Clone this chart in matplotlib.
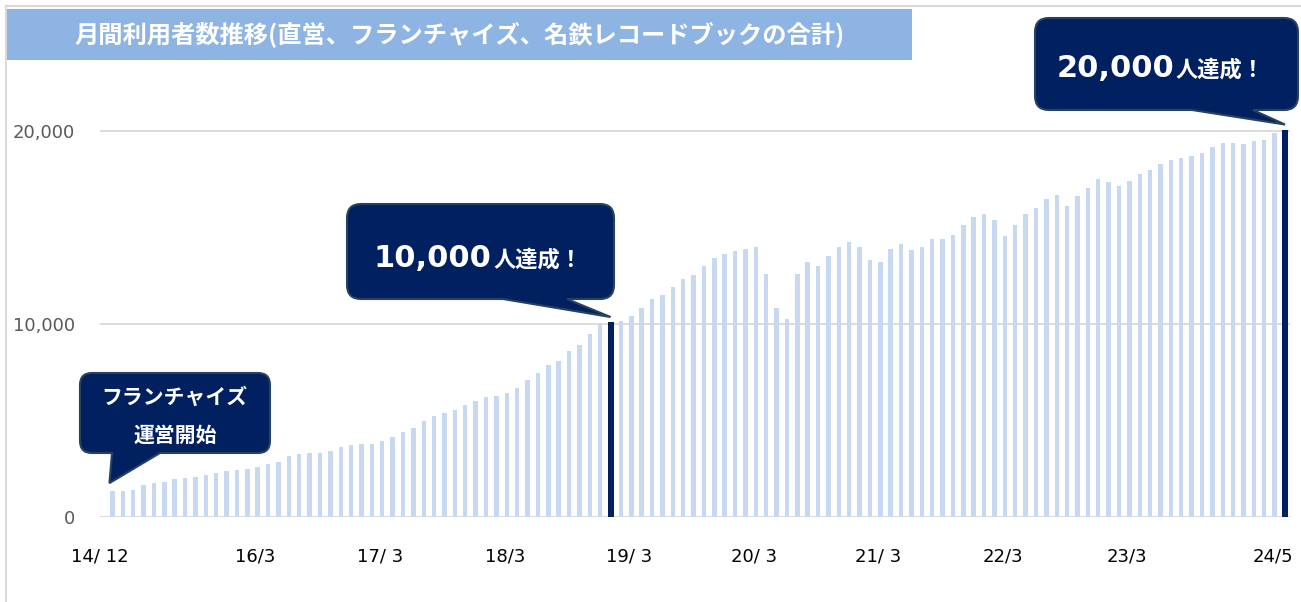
import matplotlib
matplotlib.use("Agg")
import matplotlib.pyplot as plt
from matplotlib.path import Path
from matplotlib.patches import PathPatch, Rectangle
import numpy as np
import pandas as pd

plt.rcParams['font.family'] = ['Noto Sans CJK JP', 'DejaVu Sans']

# monthly users, Dec 2014 .. May 2024
months = pd.period_range('2014-12', '2024-05', freq='M')
users = [
    1340, 1360, 1420, 1640, 1750, 1830, 1950, 2020, 2090, 2200,
    2280, 2390, 2460, 2470, 2600, 2730, 2850, 3150, 3240, 3290,
    3340, 3440, 3620, 3750, 3770, 3800, 3960, 4130, 4410, 4620,
    4950, 5220, 5380, 5550, 5800, 6000, 6210, 6280, 6420, 6700,
    7090, 7460, 7850, 8080, 8600, 8930, 9460, 9930, 10100, 10160,
    10430, 10830, 11300, 11520, 11920, 12350, 12540, 13020, 13420, 13610,
    13780, 13870, 13970, 12570, 10850, 10240, 12570, 13210, 13020, 13510,
    13970, 14240, 14010, 13300, 13200, 13870, 14130, 13820, 13970, 14390,
    14390, 14590, 15150, 15530, 15670, 15410, 14540, 15150, 15670, 15980,
    16480, 16670, 16130, 16620, 17060, 17500, 17360, 17130, 17390, 17790,
    18000, 18270, 18480, 18570, 18710, 18860, 19140, 19380, 19380, 19340,
    19470, 19550, 19900, 20070,
]
milestones = ['2018-12', '2024-05']

tick_months = ['2014-12', '2016-03', '2017-03', '2018-03', '2019-03',
               '2020-03', '2021-03', '2022-03', '2023-03', '2024-05']
tick_labels = ['14/ 12', '16/3', '17/ 3', '18/3', '19/ 3',
               '20/ 3', '21/ 3', '22/3', '23/3', '24/5']
yticks = [0, 10000, 20000]

title = '月間利用者数推移(直営、フランチャイズ、名鉄レコードブックの合計)'

LIGHT = '#C6D9F1'
NAVY = '#002060'
EDGE = '#27425E'

W, H = 1301, 602
fig = plt.figure(figsize=(W / 100, H / 100), dpi=100)
fig.patch.set_facecolor('white')

# plot area: x 100..1290 px, y 100..517 px (image coords)
ax = fig.add_axes([100 / W, (H - 517) / H, 1190 / W, 417 / H])
x = np.arange(len(users))
hi = set(months.get_loc(pd.Period(m, 'M')) for m in milestones)
colors = [NAVY if i in hi else LIGHT for i in x]
widths = [0.58 if i in hi else 0.43 for i in x]
ax.bar(x, users, width=widths, color=colors, zorder=3)

ax.set_xlim(-0.77, len(users) - 0.52)
ax.set_ylim(0, 21600)
ax.set_yticks(yticks)
ax.set_yticklabels([f'{v:,}' for v in yticks], fontsize=13, color='#595959',
                   family='DejaVu Sans')
tick_pos = [months.get_loc(pd.Period(m, 'M')) - 1.2 for m in tick_months]
ax.set_xticks(tick_pos)
ax.set_xticklabels(tick_labels, fontsize=13, color='black', family='DejaVu Sans')
ax.tick_params(axis='y', length=0, pad=18)
ax.tick_params(axis='x', length=0, pad=22)
ax.grid(axis='y', color='#D9D9D9', linewidth=1.3, zorder=0)
for s in ax.spines.values():
    s.set_visible(False)

# overlay in image pixel coordinates for title and callouts
ov = fig.add_axes([0, 0, 1, 1], zorder=5)
ov.set_xlim(0, W)
ov.set_ylim(H, 0)
ov.axis('off')

ov.plot([6, 6], [6, H], color='#D9D9D9', lw=1.5)
ov.plot([6, W], [6, 6], color='#D9D9D9', lw=1.5)
ov.add_patch(Rectangle((7, 9), 905, 51, color='#8DB4E2', lw=0))
ov.text(460, 35, title, color='white', fontsize=17.5, fontweight='bold',
        ha='center', va='center')


def bar_top(i, dx, dy):
    px, py = ax.transData.transform((i, users[i]))
    return px + dx, H - py + dy


def callout(x0, y0, x1, y1, r, ba, bb, tip):
    verts = [(x0 + r, y0), (x1 - r, y0), (x1, y0), (x1, y0 + r),
             (x1, y1 - r), (x1, y1), (x1 - r, y1),
             (bb, y1), tip, (ba, y1),
             (x0 + r, y1), (x0, y1), (x0, y1 - r),
             (x0, y0 + r), (x0, y0), (x0 + r, y0), (x0 + r, y0)]
    codes = [Path.MOVETO, Path.LINETO, Path.CURVE3, Path.CURVE3,
             Path.LINETO, Path.CURVE3, Path.CURVE3,
             Path.LINETO, Path.LINETO, Path.LINETO,
             Path.LINETO, Path.CURVE3, Path.CURVE3,
             Path.LINETO, Path.CURVE3, Path.CURVE3, Path.CLOSEPOLY]
    ov.add_patch(PathPatch(Path(verts, codes), facecolor=NAVY,
                           edgecolor=EDGE, lw=1.5))


# franchise start
callout(80, 373, 270, 453, 12, 112, 160, bar_top(0, -3, -8))
ov.text(174, 397, 'フランチャイズ', color='white', fontsize=15,
        fontweight='bold', ha='center', va='center')
ov.text(175, 435, '運営開始', color='white', fontsize=15,
        fontweight='bold', ha='center', va='center')

# milestones
boxes = [(347, 204, 614, 299, 503, 567, 491, 267, '10,000'),
         (1035, 18, 1298, 110, 1192, 1253, 1174, 77, '20,000')]
for (x0, y0, x1, y1, ba, bb, sx, by, num), i in zip(boxes, sorted(hi)):
    callout(x0, y0, x1, y1, 14, ba, bb, bar_top(i, 0, -5))
    ov.text(sx, by, num, color='white', fontsize=22, fontweight='bold',
            ha='right', va='baseline', family='DejaVu Sans')
    ov.text(sx + 2, by, '人達成！', color='white', fontsize=16,
            fontweight='bold', ha='left', va='baseline')

fig.savefig('out.png', dpi=100)
